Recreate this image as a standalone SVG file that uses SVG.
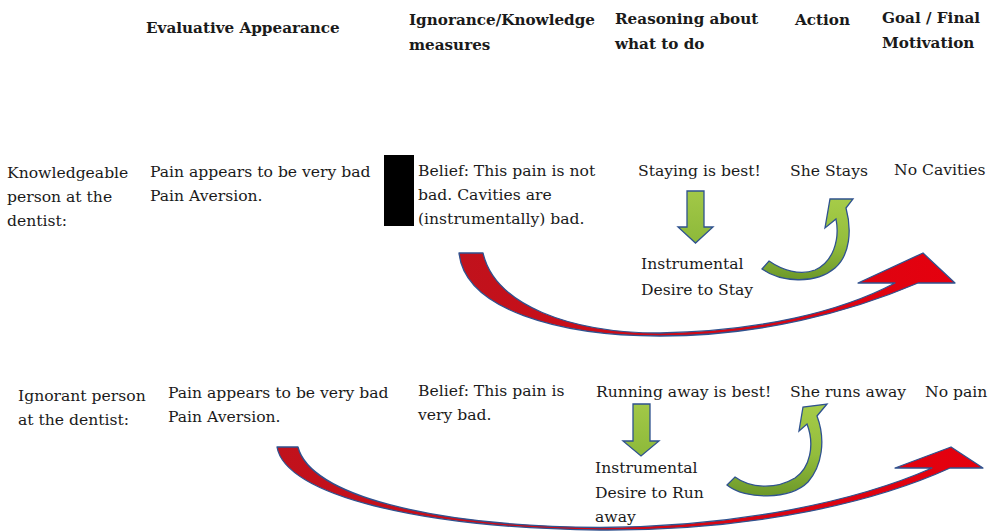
<svg xmlns="http://www.w3.org/2000/svg" width="999" height="531" viewBox="0 0 999 531">
<style>
text { font-family: "DejaVu Serif", "Liberation Serif", serif; font-size: 15.6px; fill: #1a1a1a; }
.h { font-weight: bold; font-size: 15.2px; }
.red { fill: url(#redGrad); stroke: #2F528F; stroke-width: 1.3; stroke-linejoin: round; }
.grn { fill: url(#grnGrad); stroke: #2F528F; stroke-width: 1.3; stroke-linejoin: miter; }
.grc { fill: url(#grcGrad); stroke: #2F528F; stroke-width: 1.3; stroke-linejoin: miter; }
</style>
<defs>
<linearGradient id="redGrad" x1="0" y1="0" x2="1" y2="0">
<stop offset="0" stop-color="#C0121C"/>
<stop offset="1" stop-color="#E5000E"/>
</linearGradient>
<linearGradient id="grnGrad" x1="0" y1="0" x2="0" y2="1">
<stop offset="0" stop-color="#A2C847"/>
<stop offset="1" stop-color="#8DB93A"/>
</linearGradient>
<linearGradient id="grcGrad" x1="0" y1="0" x2="0" y2="1">
<stop offset="0" stop-color="#A6CC48"/>
<stop offset="0.55" stop-color="#93BD3C"/>
<stop offset="1" stop-color="#6C9829"/>
</linearGradient>
</defs>
<rect width="999" height="531" fill="#ffffff"/>

<g id="headers">
<g id="h-evaluative"><text class="h" x="146" y="33">Evaluative Appearance</text></g>
<g id="h-ignorance"><text class="h" x="409" y="25">Ignorance/Knowledge</text><text class="h" x="409" y="50">measures</text></g>
<g id="h-reasoning"><text class="h" x="615" y="24">Reasoning about</text><text class="h" x="615" y="49">what to do</text></g>
<g id="h-action"><text class="h" x="795" y="25">Action</text></g>
<g id="h-goal"><text class="h" x="882" y="23">Goal / Final</text><text class="h" x="882" y="48">Motivation</text></g>
</g>

<g id="row1-person"><text x="7" y="178">Knowledgeable</text><text x="7" y="202">person at the</text><text x="7" y="226">dentist:</text></g>
<g id="row1-appearance"><text x="150" y="177">Pain appears to be very bad</text><text x="150" y="201">Pain Aversion.</text></g>
<g id="row1-block"><rect x="384" y="155" width="30" height="71" fill="#000000"/></g>
<g id="row1-belief"><text x="418" y="176">Belief: This pain is not</text><text x="418" y="200">bad. Cavities are</text><text x="418" y="224">(instrumentally) bad.</text></g>
<g id="row1-reasoning"><text x="638" y="176">Staying is best!</text></g>
<g id="row1-desire"><text x="641" y="269">Instrumental</text><text x="641" y="295">Desire to Stay</text></g>
<g id="row1-action"><text x="790" y="176">She Stays</text></g>
<g id="row1-goal"><text x="894" y="175">No Cavities</text></g>

<g id="row2-person"><text x="18" y="401">Ignorant person</text><text x="18" y="425">at the dentist:</text></g>
<g id="row2-appearance"><text x="168" y="398">Pain appears to be very bad</text><text x="168" y="422">Pain Aversion.</text></g>
<g id="row2-belief"><text x="418" y="396">Belief: This pain is</text><text x="418" y="420">very bad.</text></g>
<g id="row2-reasoning"><text x="596" y="397">Running away is best!</text></g>
<g id="row2-desire"><text x="595" y="473">Instrumental</text><text x="595" y="498">Desire to Run</text><text x="595" y="522">away</text></g>
<g id="row2-action"><text x="790" y="397">She runs away</text></g>
<g id="row2-goal"><text x="925" y="397">No pain</text></g>

<g id="connectors">
<path class="red" d="M459,253 C465,310 560,336 660,336 C760,336 850,312 918,283 L955,283 L923,253 L858,283 L895,283 C840,312 760,331 660,333 C570,333 495,305 483,253 Z"/>
<path class="grn" d="M687,191 L704,191 L704,227 L713,227 L695.5,243 L678,227 L687,227 Z"/>
<path class="grc" d="M762,269 C780,282 815,285 835,268 C850,255 852,230 846,208 L853,199 L830,199 L825,228 L836,219 C840,240 833,262 815,270 C800,276 782,270 769,261 Z"/>

<path class="red" d="M277,447 C285,495 420,528 600,530 C760,531 880,500 950,468 L983,468 L951,447 L895,468 L932,468 C860,500 740,527 600,527.5 C430,526 310,495 298,447 Z"/>
<path class="grn" d="M633,404 L650,404 L650,441 L659,441 L641,456 L623,441 L633,441 Z"/>
<path class="grc" d="M727,485 C745,500 790,500 808,482 C822,466 826,440 817,416 L827,404 L803,407 L799,431 L807,424 C815,445 810,468 795,478 C775,490 750,488 735,477 Z"/>
</g>
</svg>
